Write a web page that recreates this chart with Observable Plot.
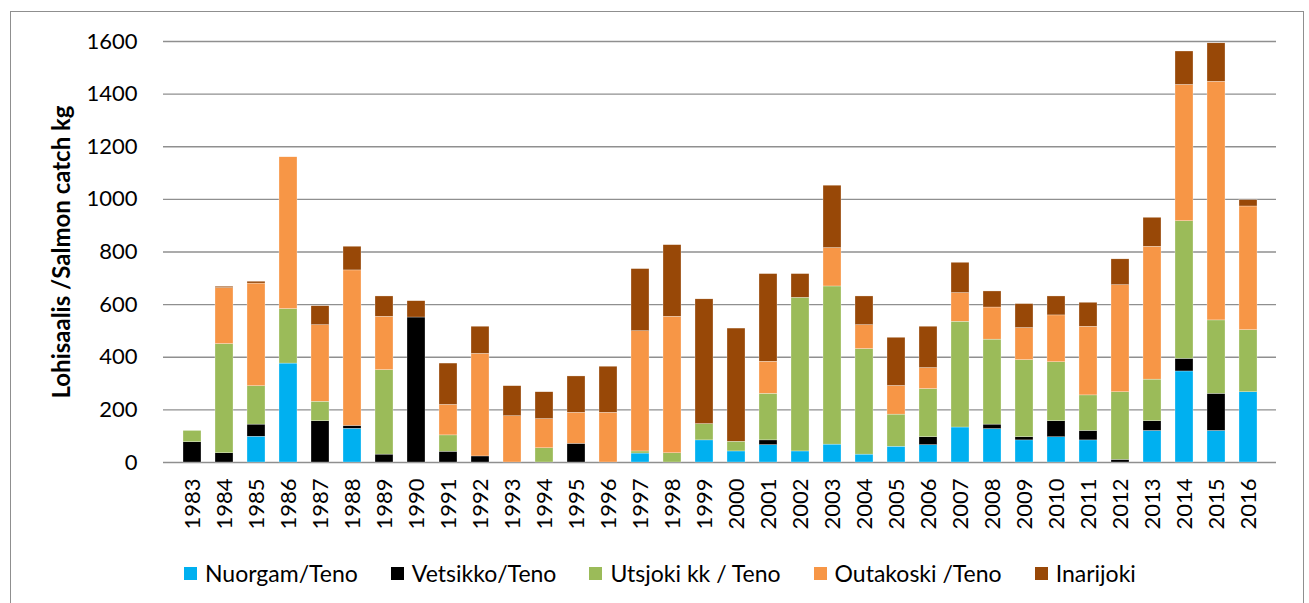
<!DOCTYPE html>
<html>
<head>
<meta charset="utf-8">
<script src="https://cdn.jsdelivr.net/npm/d3@7"></script>
<script src="https://cdn.jsdelivr.net/npm/@observablehq/plot@0.6"></script>
<style>
  html, body { margin: 0; padding: 0; background: #fff; }
  body { width: 1309px; height: 603px; position: relative; overflow: hidden; font-family: "Lato", sans-serif; }
  #frame { position: absolute; left: 10px; top: 11px; width: 1294px; height: 600px; border: 1.5px solid #8f8f8f; box-sizing: border-box; }
  #chart { position: absolute; left: 0; top: 0; }
  #legend { position: absolute; left: 184px; top: 559px; display: flex; gap: 33px; font-family: "Lato", sans-serif; font-size: 23px; color: #000; align-items: center; }
  #legend .item { display: flex; align-items: center; white-space: nowrap; }
  #legend .sw { width: 13px; height: 13px; margin-right: 8px; display: inline-block; }
</style>
</head>
<body>
<div id="frame"></div>
<div id="chart"></div>
<div id="legend"></div>
<script>
const years = ["1983","1984","1985","1986","1987","1988","1989","1990","1991","1992","1993","1994","1995","1996","1997","1998","1999","2000","2001","2002","2003","2004","2005","2006","2007","2008","2009","2010","2011","2012","2013","2014","2015","2016"];
const seriesNames = ["Nuorgam/Teno", "Vetsikko/Teno", "Utsjoki kk / Teno", "Outakoski /Teno", "Inarijoki"];
const seriesColors = ["#00B0F0", "#000000", "#9BBB59", "#F79646", "#984807"];
const nuorgam   = [0,0,98,376,0,128,0,0,0,0,0,0,0,0,34,0,84,42,66,42,68,30,60,66,133,127,84,96,84,0,120,346,120,267];
const vetsikko  = [77,35,46,0,157,11,30,551,41,23,0,0,71,0,0,0,0,0,18,0,0,0,0,30,0,17,12,61,36,10,37,48,141,0];
const utsjoki   = [43,415,146,207,74,0,321,0,62,0,0,54,0,0,8,35,62,37,177,584,601,401,122,183,402,323,293,224,135,257,158,523,279,236];
const outakoski = [0,213,390,577,291,591,203,0,116,390,176,111,118,189,457,519,0,0,122,0,146,91,109,80,109,122,122,178,261,407,505,518,907,470];
const inarijoki = [0,5,7,0,72,90,77,62,157,103,114,102,138,175,236,272,474,430,333,90,237,109,183,157,115,61,91,72,91,98,110,127,146,24];
const yTicks = [0,200,400,600,800,1000,1200,1400,1600];
const yLabel = "Lohisaalis /Salmon catch kg";

const seriesValues = [nuorgam, vetsikko, utsjoki, outakoski, inarijoki];
const rows = [];
seriesNames.forEach((name, s) => {
  years.forEach((year, i) => rows.push({year, series: name, value: seriesValues[s][i]}));
});

const chart = Plot.plot({
  width: 1309,
  height: 545,
  marginTop: 41,
  marginBottom: 83,
  marginLeft: 163,
  marginRight: 33,
  style: {fontFamily: "Lato, sans-serif", fontSize: "22px", color: "#000", background: "transparent"},
  x: {domain: years, padding: 0.44, label: null},
  y: {domain: [0, 1600], label: null},
  color: {domain: seriesNames, range: seriesColors},
  marks: [
    Plot.gridY(yTicks, {stroke: "#8f8f8f", strokeOpacity: 1, strokeWidth: 1.3}),
    Plot.barY(rows, {x: "year", y: "value", fill: "series", stroke: "#ffffff", strokeWidth: 0.4, strokeOpacity: 0.7}),
    Plot.axisY(yTicks, {tickSize: 0, tickPadding: 26, label: null, fontSize: 22, fill: "#000", tickFormat: d => String(d)}),
    Plot.axisX({tickSize: 0, tickPadding: 16, tickRotate: -90, label: null, fontSize: 22, fill: "#000"}),
    Plot.text([yLabel], {frameAnchor: "left", rotate: -90, dx: -101, textAnchor: "middle", fontWeight: "bold", fontSize: 24, fill: "#000"})
  ]
});
document.getElementById("chart").appendChild(chart);

const legend = document.getElementById("legend");
seriesNames.forEach((name, i) => {
  const item = document.createElement("div");
  item.className = "item";
  const sw = document.createElement("span");
  sw.className = "sw";
  sw.style.background = seriesColors[i];
  item.appendChild(sw);
  item.appendChild(document.createTextNode(name));
  legend.appendChild(item);
});
</script>
</body>
</html>
